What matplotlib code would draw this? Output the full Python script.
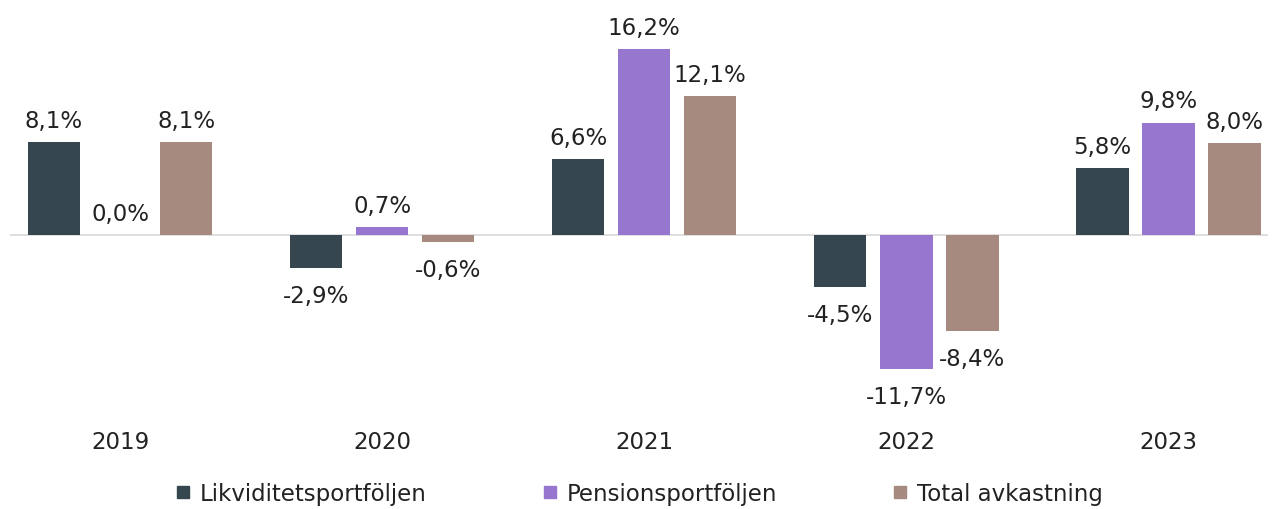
import numpy as np
import matplotlib.pyplot as plt
from matplotlib.lines import Line2D

years = ['2019', '2020', '2021', '2022', '2023']
series = ['Likviditetsportföljen', 'Pensionsportföljen', 'Total avkastning']
likviditet = [8.1, -2.9, 6.6, -4.5, 5.8]
pension = [0.0, 0.7, 16.2, -11.7, 9.8]
total = [8.1, -0.6, 12.1, -8.4, 8.0]
colors = ['#36464f', '#9776d0', '#a68a7f']

FS = 16.5
TXT = '#222222'

fig = plt.figure(figsize=(12.76, 5.10), dpi=100)
ax = fig.add_axes([10 / 1276, 100 / 510, 1258 / 1276, 400 / 510])

x = np.arange(len(years))
width = 0.2
offset = 0.252
for i, (vals, col) in enumerate(zip([likviditet, pension, total], colors)):
    pos = x + (i - 1) * offset
    ax.bar(pos, vals, width, color=col, zorder=2)
    for px, v in zip(pos, vals):
        txt = '{:.1f}%'.format(v).replace('.', ',')
        # positive labels sit above the bar, negative ones below
        dy = 11 if v >= 0 else -24.5
        ax.annotate(txt, (px, v), xytext=(0, dy), textcoords='offset points',
                    ha='center', va='baseline', fontsize=FS, color=TXT)

ax.axhline(0, color='#d9d9d9', lw=1.2, zorder=1)
ax.set_xlim(-0.42, 4.38)
ax.set_ylim(-15.16, 19.7)
for s in ax.spines.values():
    s.set_visible(False)
ax.set_yticks([])
ax.set_xticks(x)
ax.set_xticklabels(years, fontsize=FS, color=TXT)
ax.tick_params(axis='x', length=0, pad=15)

handles = [Line2D([], [], marker='s', ls='', color=c, markersize=8.5) for c in colors]
fig.legend(handles, series, loc='center left', bbox_to_anchor=(175 / 1276, 15 / 510),
           ncol=3, frameon=False, fontsize=FS, handlelength=0.7, handletextpad=0.4,
           columnspacing=5.0, borderpad=0, borderaxespad=0, labelcolor=TXT)

fig.savefig('out.png', dpi=100)
